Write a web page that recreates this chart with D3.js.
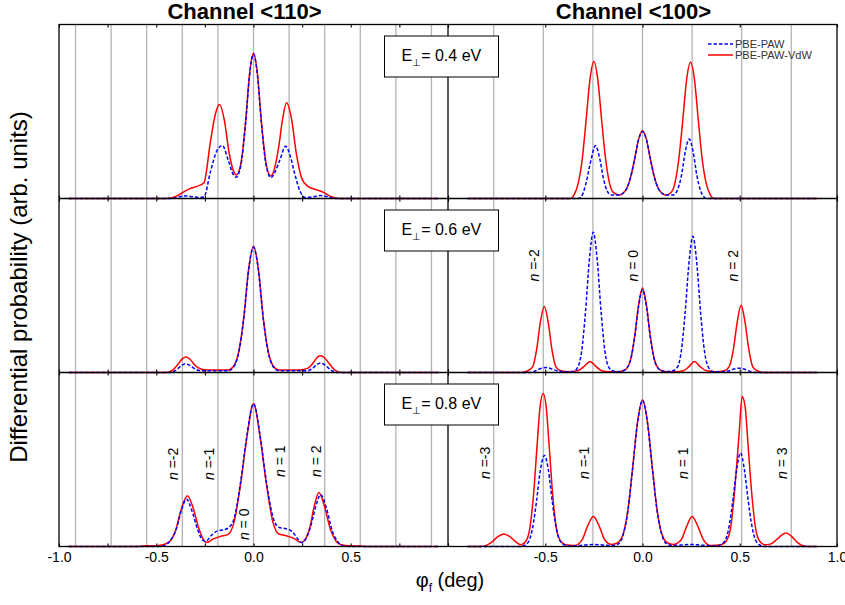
<!DOCTYPE html>
<html>
<head>
<meta charset="utf-8">
<script src="https://d3js.org/d3.v7.min.js"></script>
<style>
  body { margin: 0; background: #fff; }
  svg text { font-family: "Liberation Sans", Arial, sans-serif; }
</style>
</head>
<body>
<script>
// ---- data: [phi_f (deg), differential probability (arb.)] ----
var channels = ["Channel <110>", "Channel <100>"];
var energies = ["0.4", "0.6", "0.8"];
var seriesNames = ["PBE-PAW", "PBE-PAW-VdW"];

var tickLabels110 = [-1.0, -0.5, 0.0, 0.5];
var tickLabels100 = [-0.5, 0.0, 0.5, 1.0];
var ticks110 = [-1, -0.75, -0.5, -0.25, 0, 0.25, 0.5, 0.75, 1];
var ticks100 = [-1, -0.5, 0, 0.5, 1];
var grid110 = [-0.915, -0.732, -0.549, -0.366, -0.183, 0, 0.183, 0.366, 0.549, 0.732, 0.915];
var grid100 = [-0.765, -0.51, -0.255, 0, 0.255, 0.51, 0.765];

// E = 0.4 eV
var paw110_04 = [[-0.95,0],[-0.42,0],[-0.39,0.008],[-0.35,0.015],[-0.31,0.01],[-0.275,0.006],[-0.255,0.01],[-0.22,0.16],[-0.19,0.27],[-0.16,0.305],[-0.13,0.22],[-0.105,0.14],[-0.09,0.122],[-0.065,0.19],[-0.04,0.44],[-0.02,0.71],[0,0.83],[0.02,0.71],[0.04,0.44],[0.065,0.19],[0.09,0.12],[0.11,0.15],[0.135,0.22],[0.165,0.3],[0.19,0.24],[0.21,0.15],[0.24,0.04],[0.265,0.006],[0.31,0.01],[0.345,0.017],[0.38,0.01],[0.42,0],[0.95,0]];
var vdw110_04 = [[-0.95,0],[-0.45,0],[-0.41,0.008],[-0.37,0.03],[-0.33,0.055],[-0.29,0.07],[-0.255,0.09],[-0.221,0.33],[-0.195,0.49],[-0.175,0.54],[-0.15,0.45],[-0.125,0.26],[-0.1,0.15],[-0.088,0.135],[-0.065,0.2],[-0.04,0.45],[-0.02,0.72],[0,0.835],[0.02,0.72],[0.04,0.45],[0.065,0.2],[0.088,0.13],[0.105,0.16],[0.13,0.3],[0.15,0.46],[0.17,0.55],[0.195,0.46],[0.22,0.26],[0.25,0.11],[0.28,0.07],[0.32,0.052],[0.36,0.035],[0.4,0.01],[0.44,0],[0.95,0]];
var paw100_04 = [[-0.9,0],[-0.33,0],[-0.31,0.02],[-0.29,0.09],[-0.265,0.22],[-0.242,0.304],[-0.22,0.23],[-0.2,0.11],[-0.18,0.04],[-0.16,0.02],[-0.12,0.02],[-0.1,0.03],[-0.08,0.06],[-0.06,0.127],[-0.04,0.23],[-0.02,0.34],[0,0.385],[0.02,0.34],[0.04,0.23],[0.06,0.127],[0.08,0.06],[0.1,0.03],[0.12,0.02],[0.16,0.02],[0.18,0.05],[0.2,0.13],[0.22,0.27],[0.24,0.342],[0.26,0.27],[0.28,0.13],[0.3,0.04],[0.315,0.01],[0.33,0],[0.9,0]];
var vdw100_04 = [[-0.9,0],[-0.37,0],[-0.35,0.025],[-0.33,0.09],[-0.31,0.225],[-0.29,0.45],[-0.27,0.685],[-0.25,0.787],[-0.23,0.685],[-0.21,0.45],[-0.19,0.23],[-0.17,0.09],[-0.15,0.035],[-0.12,0.02],[-0.1,0.03],[-0.08,0.06],[-0.06,0.127],[-0.04,0.23],[-0.02,0.34],[0,0.39],[0.02,0.34],[0.04,0.23],[0.06,0.127],[0.08,0.06],[0.1,0.03],[0.12,0.02],[0.147,0.035],[0.167,0.09],[0.187,0.23],[0.207,0.45],[0.227,0.685],[0.247,0.783],[0.267,0.685],[0.287,0.45],[0.307,0.225],[0.327,0.09],[0.347,0.025],[0.367,0],[0.9,0]];

// E = 0.6 eV
var paw110_06 = [[-0.95,0],[-0.43,0],[-0.4,0.012],[-0.37,0.04],[-0.35,0.05],[-0.33,0.042],[-0.3,0.02],[-0.27,0.01],[-0.13,0.01],[-0.1,0.035],[-0.075,0.12],[-0.05,0.31],[-0.025,0.59],[0,0.72],[0.025,0.59],[0.05,0.31],[0.075,0.12],[0.1,0.035],[0.13,0.01],[0.27,0.01],[0.3,0.02],[0.325,0.045],[0.345,0.055],[0.365,0.045],[0.4,0.012],[0.43,0],[0.95,0]];
var vdw110_06 = [[-0.95,0],[-0.45,0],[-0.42,0.01],[-0.39,0.045],[-0.365,0.08],[-0.346,0.089],[-0.325,0.075],[-0.3,0.04],[-0.27,0.02],[-0.24,0.015],[-0.13,0.015],[-0.1,0.04],[-0.075,0.125],[-0.05,0.315],[-0.025,0.595],[0,0.725],[0.025,0.595],[0.05,0.315],[0.075,0.125],[0.1,0.04],[0.13,0.015],[0.24,0.015],[0.28,0.025],[0.31,0.06],[0.33,0.09],[0.345,0.096],[0.365,0.085],[0.39,0.05],[0.42,0.012],[0.45,0],[0.95,0]];
var paw100_06 = [[-0.9,0],[-0.58,0],[-0.55,0.01],[-0.52,0.024],[-0.495,0.029],[-0.47,0.022],[-0.44,0.01],[-0.4,0.004],[-0.355,0.006],[-0.333,0.03],[-0.313,0.12],[-0.293,0.35],[-0.273,0.65],[-0.253,0.806],[-0.233,0.65],[-0.213,0.35],[-0.193,0.12],[-0.173,0.03],[-0.15,0.008],[-0.12,0.005],[-0.1,0.01],[-0.08,0.025],[-0.06,0.077],[-0.04,0.205],[-0.02,0.38],[0,0.476],[0.02,0.38],[0.04,0.205],[0.06,0.077],[0.08,0.025],[0.1,0.01],[0.12,0.005],[0.15,0.008],[0.179,0.03],[0.199,0.12],[0.219,0.34],[0.239,0.63],[0.259,0.783],[0.279,0.63],[0.299,0.34],[0.319,0.12],[0.339,0.03],[0.36,0.006],[0.4,0.004],[0.44,0.008],[0.47,0.02],[0.495,0.025],[0.52,0.02],[0.55,0.008],[0.58,0],[0.9,0]];
var vdw100_06 = [[-0.9,0],[-0.62,0],[-0.59,0.01],[-0.565,0.032],[-0.545,0.127],[-0.525,0.29],[-0.505,0.38],[-0.485,0.29],[-0.465,0.127],[-0.445,0.032],[-0.42,0.01],[-0.38,0.005],[-0.33,0.012],[-0.3,0.035],[-0.27,0.063],[-0.24,0.035],[-0.21,0.01],[-0.17,0.004],[-0.12,0.005],[-0.1,0.01],[-0.08,0.025],[-0.06,0.08],[-0.04,0.21],[-0.02,0.39],[0,0.486],[0.02,0.39],[0.04,0.21],[0.06,0.08],[0.08,0.025],[0.1,0.01],[0.12,0.005],[0.17,0.004],[0.21,0.01],[0.24,0.035],[0.267,0.063],[0.295,0.035],[0.325,0.012],[0.38,0.005],[0.42,0.01],[0.445,0.032],[0.467,0.13],[0.487,0.29],[0.507,0.386],[0.527,0.29],[0.547,0.13],[0.567,0.032],[0.59,0.01],[0.62,0],[0.9,0]];

// E = 0.8 eV
var paw110_08 = [[-0.95,0],[-0.5,0],[-0.46,0.005],[-0.43,0.03],[-0.4,0.09],[-0.37,0.21],[-0.345,0.273],[-0.315,0.2],[-0.285,0.09],[-0.26,0.035],[-0.245,0.03],[-0.22,0.06],[-0.185,0.09],[-0.153,0.096],[-0.125,0.11],[-0.1,0.16],[-0.065,0.38],[-0.035,0.63],[0,0.82],[0.035,0.63],[0.065,0.38],[0.1,0.17],[0.13,0.11],[0.168,0.102],[0.2,0.085],[0.23,0.04],[0.25,0.022],[0.27,0.045],[0.295,0.12],[0.32,0.23],[0.345,0.298],[0.375,0.22],[0.405,0.09],[0.435,0.025],[0.46,0.005],[0.5,0],[0.95,0]];
var vdw110_08 = [[-0.95,0],[-0.6,0],[-0.56,0.004],[-0.5,0.005],[-0.46,0.012],[-0.43,0.03],[-0.4,0.095],[-0.37,0.22],[-0.34,0.292],[-0.31,0.22],[-0.28,0.1],[-0.255,0.035],[-0.238,0.023],[-0.21,0.042],[-0.17,0.058],[-0.13,0.07],[-0.1,0.14],[-0.065,0.37],[-0.035,0.62],[0,0.821],[0.035,0.62],[0.065,0.37],[0.1,0.14],[0.13,0.072],[0.164,0.063],[0.21,0.045],[0.245,0.023],[0.265,0.04],[0.29,0.11],[0.31,0.22],[0.336,0.311],[0.365,0.23],[0.395,0.1],[0.425,0.03],[0.45,0.01],[0.5,0.004],[0.55,0.003],[0.58,0],[0.95,0]];
var paw100_08 = [[-0.9,0],[-0.63,0],[-0.6,0.01],[-0.575,0.06],[-0.56,0.14],[-0.545,0.26],[-0.525,0.44],[-0.504,0.523],[-0.484,0.44],[-0.464,0.26],[-0.449,0.14],[-0.434,0.06],[-0.41,0.015],[-0.38,0.003],[-0.3,0.008],[-0.25,0.012],[-0.2,0.008],[-0.15,0.006],[-0.12,0.018],[-0.1,0.065],[-0.075,0.205],[-0.05,0.455],[-0.025,0.715],[0,0.84],[0.025,0.715],[0.05,0.455],[0.075,0.205],[0.1,0.065],[0.12,0.018],[0.15,0.006],[0.2,0.008],[0.25,0.012],[0.3,0.008],[0.38,0.003],[0.41,0.015],[0.434,0.06],[0.449,0.14],[0.464,0.26],[0.484,0.44],[0.504,0.538],[0.524,0.44],[0.544,0.26],[0.559,0.14],[0.574,0.06],[0.6,0.01],[0.63,0],[0.9,0]];
var vdw100_08 = [[-0.9,0],[-0.83,0],[-0.8,0.008],[-0.775,0.025],[-0.745,0.055],[-0.713,0.072],[-0.68,0.055],[-0.65,0.025],[-0.625,0.01],[-0.6,0.03],[-0.58,0.1],[-0.56,0.3],[-0.542,0.58],[-0.527,0.8],[-0.511,0.88],[-0.495,0.8],[-0.48,0.58],[-0.462,0.3],[-0.442,0.1],[-0.42,0.03],[-0.395,0.01],[-0.35,0.006],[-0.31,0.04],[-0.285,0.11],[-0.253,0.173],[-0.22,0.11],[-0.195,0.04],[-0.16,0.012],[-0.13,0.02],[-0.1,0.07],[-0.075,0.21],[-0.05,0.46],[-0.025,0.72],[0,0.842],[0.025,0.72],[0.05,0.46],[0.075,0.21],[0.1,0.07],[0.13,0.02],[0.16,0.012],[0.2,0.04],[0.225,0.11],[0.255,0.173],[0.287,0.11],[0.313,0.04],[0.35,0.006],[0.405,0.01],[0.43,0.03],[0.452,0.1],[0.472,0.3],[0.492,0.58],[0.497,0.65],[0.512,0.862],[0.528,0.8],[0.543,0.58],[0.562,0.3],[0.582,0.1],[0.603,0.03],[0.63,0.01],[0.66,0.015],[0.69,0.04],[0.715,0.065],[0.739,0.077],[0.765,0.06],[0.795,0.025],[0.82,0.006],[0.85,0],[0.9,0]];

// diffraction order labels (n)
var orders100_06 = [-2, 0, 2];
var orders110_08 = [-2, -1, 1, 2];
var orders100_08 = [-3, -1, 1, 3];

var width = 845, height = 605;
var svg = d3.select("body").append("svg")
    .attr("width", width)
    .attr("height", height);

var cols = [[59, 448], [448, 837]];
var rowTop = [24.5, 198.5, 372.5], rowH = 174;
var plotTop = rowTop[0], plotBottom = rowTop[2] + rowH;

var curves = [
    [[paw110_04, vdw110_04], [paw110_06, vdw110_06], [paw110_08, vdw110_08]],
    [[paw100_04, vdw100_04], [paw100_06, vdw100_06], [paw100_08, vdw100_08]]
];
var grids = [grid110, grid100];
var ticks = [ticks110, ticks100];
var tickLabels = [tickLabels110, tickLabels100];

var xs = cols.map(function(c) {
    return d3.scaleLinear().domain([-1, 1]).range(c);
});
var ys = rowTop.map(function(t) {
    return d3.scaleLinear().domain([0, 1]).range([t + rowH, t]);
});

// grid lines (run through all three rows)
xs.forEach(function(x, ci) {
    svg.append("g").selectAll("line")
        .data(grids[ci]).join("line")
        .attr("x1", x).attr("x2", x)
        .attr("y1", plotTop).attr("y2", plotBottom)
        .attr("stroke", "#b4b4b4")
        .attr("stroke-width", 1.3);
});

// curves
xs.forEach(function(x, ci) {
    ys.forEach(function(y, ri) {
        var line = d3.line()
            .x(function(d) { return x(d[0]); })
            .y(function(d) { return y(d[1]); })
            .curve(d3.curveMonotoneX);
        var pair = curves[ci][ri];
        svg.append("path").datum(pair[1])
            .attr("d", line)
            .attr("fill", "none")
            .attr("stroke", "#ff0000")
            .attr("stroke-width", 1.5);
        svg.append("path").datum(pair[0])
            .attr("d", line)
            .attr("fill", "none")
            .attr("stroke", "#0000ff")
            .attr("stroke-width", 1.5)
            .attr("stroke-dasharray", "3.5,2");
    });
});

// frame
var frame = svg.append("g").attr("stroke", "#000").attr("stroke-width", 1.3).attr("fill", "none");
frame.append("rect")
    .attr("x", cols[0][0]).attr("y", plotTop)
    .attr("width", cols[1][1] - cols[0][0]).attr("height", plotBottom - plotTop);
frame.append("line")
    .attr("x1", cols[1][0]).attr("x2", cols[1][0])
    .attr("y1", plotTop).attr("y2", plotBottom);
[rowTop[1], rowTop[2]].forEach(function(yy) {
    frame.append("line")
        .attr("x1", cols[0][0]).attr("x2", cols[1][1])
        .attr("y1", yy).attr("y2", yy);
});

// tick marks on every horizontal boundary
var bounds = [rowTop[0], rowTop[1], rowTop[2], plotBottom];
xs.forEach(function(x, ci) {
    bounds.forEach(function(yy, bi) {
        if (bi < 3) {
            var gd = svg.append("g").attr("transform", "translate(0," + yy + ")")
                .call(d3.axisBottom(x).tickValues(ticks[ci]).tickSize(3).tickFormat(""));
            gd.select(".domain").remove();
        }
        if (bi > 0) {
            var gu = svg.append("g").attr("transform", "translate(0," + yy + ")")
                .call(d3.axisTop(x).tickValues(ticks[ci]).tickSize(3).tickFormat(""));
            gu.select(".domain").remove();
        }
    });
    var gl = svg.append("g").attr("transform", "translate(0," + plotBottom + ")")
        .call(d3.axisBottom(x).tickValues(tickLabels[ci]).tickSize(0).tickPadding(6)
            .tickFormat(function(d) { return d.toFixed(1); }));
    gl.select(".domain").remove();
    gl.selectAll("text").attr("font-size", 14).attr("fill", "#000")
        .style("font-family", "'Liberation Sans', Arial, sans-serif");
});
svg.selectAll(".tick line").attr("stroke", "#000").attr("stroke-width", 1.1);

// energy boxes
energies.forEach(function(e, ri) {
    var g = svg.append("g").attr("transform", "translate(384.5," + (rowTop[ri] + 11.5) + ")");
    g.append("rect").attr("width", 114).attr("height", 41)
        .attr("fill", "#fff").attr("stroke", "#000").attr("stroke-width", 1);
    var t = g.append("text").attr("x", 17).attr("y", 25).attr("font-size", 16);
    t.append("tspan").text("E");
    t.append("tspan").attr("font-size", 10).attr("dy", 5).text("\u22a5");
    t.append("tspan").attr("dy", -5).text("= " + e + " eV");
});

// order labels
function orderLabels(list, ci, ri, spacing, frac) {
    list.forEach(function(n) {
        var px = xs[ci](n * spacing) - 9, py = ys[ri](frac);
        var t = svg.append("text")
            .attr("transform", "translate(" + px + "," + py + ") rotate(-90)")
            .attr("dy", "0.35em")
            .attr("font-size", 14);
        t.append("tspan").attr("font-style", "italic").text("n");
        t.append("tspan").text(n < 0 ? " =" + n : " = " + n);
    });
}
orderLabels(orders100_06, 1, 1, 0.255, 0.523);
orderLabels(orders110_08.slice(0, 2), 0, 2, 0.183, 0.382);
orderLabels(orders110_08.slice(2), 0, 2, 0.183, 0.4);
orderLabels([0], 0, 2, 0.183, 0.037);
orderLabels(orders100_08, 1, 2, 0.255, 0.388);

// legend
var leg = svg.append("g").attr("transform", "translate(708,44)");
[["#0000ff", "3.5,2"], ["#ff0000", null]].forEach(function(s, i) {
    leg.append("line")
        .attr("x1", 0).attr("x2", 25).attr("y1", i * 11).attr("y2", i * 11)
        .attr("stroke", s[0]).attr("stroke-width", 1.5)
        .attr("stroke-dasharray", s[1]);
    leg.append("text")
        .attr("x", 27).attr("y", i * 11).attr("dy", "0.35em")
        .attr("font-size", 11).attr("fill", "#333")
        .text(seriesNames[i]);
});

// titles
channels.forEach(function(c, ci) {
    svg.append("text")
        .attr("x", (cols[ci][0] + cols[ci][1]) / 2 - 9)
        .attr("y", 19)
        .attr("text-anchor", "middle")
        .attr("font-size", 22)
        .attr("font-weight", "bold")
        .text(c);
});

// axis titles
svg.append("text")
    .attr("transform", "translate(27,287) rotate(-90)")
    .attr("text-anchor", "middle")
    .attr("font-size", 24)
    .text("Differential probability (arb. units)");

var xt = svg.append("text")
    .attr("x", 450).attr("y", 587)
    .attr("text-anchor", "middle")
    .attr("font-size", 20);
xt.append("tspan").text("\u03c6");
xt.append("tspan").attr("font-size", 12).attr("dy", 5).text("f");
xt.append("tspan").attr("dy", -5).text(" (deg)");
</script>
</body>
</html>
